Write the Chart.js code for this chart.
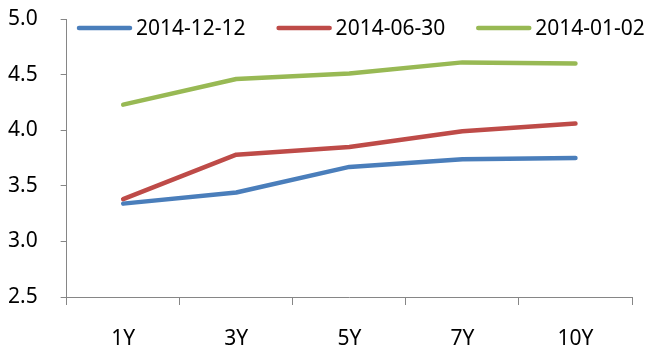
<!DOCTYPE html>
<html><head><meta charset="utf-8">
<script src="https://cdn.jsdelivr.net/npm/chart.js@4.4.0/dist/chart.umd.min.js"></script>
<style>html,body{margin:0;padding:0;background:#fff;}#wrap{width:645px;height:349px;}</style>
</head><body><div id="wrap"><canvas id="c" width="645" height="349"></canvas></div>
<script>
const categories = ['1Y', '3Y', '5Y', '7Y', '10Y'];
const seriesLabels = ['2014-12-12', '2014-06-30', '2014-01-02'];
const series1 = [3.34, 3.44, 3.67, 3.74, 3.75];
const series2 = [3.38, 3.78, 3.85, 3.99, 4.06];
const series3 = [4.23, 4.46, 4.51, 4.61, 4.60];
const yMin = 2.5, yMax = 5.0, yStep = 0.5;

const FONT = '"Noto Sans", "Open Sans", sans-serif';
const FS = 21;
const colors = ['#4A7EBB', '#BE4B48', '#98B954'];

const legendPlugin = {
  id: 'manualLegend',
  afterDraw(chart) {
    const ctx = chart.ctx;
    ctx.save();
    ctx.font = FS + 'px ' + FONT;
    ctx.textBaseline = 'middle';
    ctx.textAlign = 'left';
    let x = 77;
    const y = 28;
    chart.data.datasets.forEach(ds => {
      ctx.strokeStyle = ds.borderColor;
      ctx.lineWidth = 4.5;
      ctx.lineCap = 'round';
      ctx.beginPath();
      ctx.moveTo(x + 2, y);
      ctx.lineTo(x + 53, y);
      ctx.stroke();
      ctx.fillStyle = '#000';
      ctx.fillText(ds.label, x + 59, y + 1);
      x += 59 + ctx.measureText(ds.label).width + 31;
    });
    ctx.restore();
  }
};

const mk = (label, data, color) => ({
  label, data, borderColor: color, backgroundColor: color,
  borderWidth: 4.5, pointRadius: 0, pointHoverRadius: 0, tension: 0,
  borderCapStyle: 'round', borderJoinStyle: 'round', fill: false
});

new Chart(document.getElementById('c'), {
  type: 'line',
  data: {
    labels: categories,
    datasets: [
      mk(seriesLabels[0], series1, colors[0]),
      mk(seriesLabels[1], series2, colors[1]),
      mk(seriesLabels[2], series3, colors[2])
    ]
  },
  options: {
    responsive: false,
    animation: false,
    layout: { padding: { left: 8, right: 13, top: 19, bottom: 0 } },
    plugins: { legend: { display: false }, tooltip: { enabled: false } },
    scales: {
      x: {
        type: 'category',
        offset: true,
        grid: { offset: true, drawOnChartArea: false, drawTicks: true, tickLength: 32,
                color: '#868686', tickBorderDash: [7, 100] },
        border: { color: '#868686', width: 1 },
        ticks: { color: '#000', font: { family: FONT, size: FS, lineHeight: 0.95 }, padding: 0, maxRotation: 0 }
      },
      y: {
        min: yMin, max: yMax,
        grid: { drawOnChartArea: false, drawTicks: true, tickLength: 29, color: '#868686',
                tickBorderDash: [6, 23], tickBorderDashOffset: 6 },
        border: { color: '#868686', width: 1 },
        ticks: { stepSize: yStep, color: '#000', font: { family: FONT, size: FS }, padding: 0,
                 callback: v => Number(v).toFixed(1) }
      }
    }
  },
  plugins: [legendPlugin]
});
</script>
</body></html>
